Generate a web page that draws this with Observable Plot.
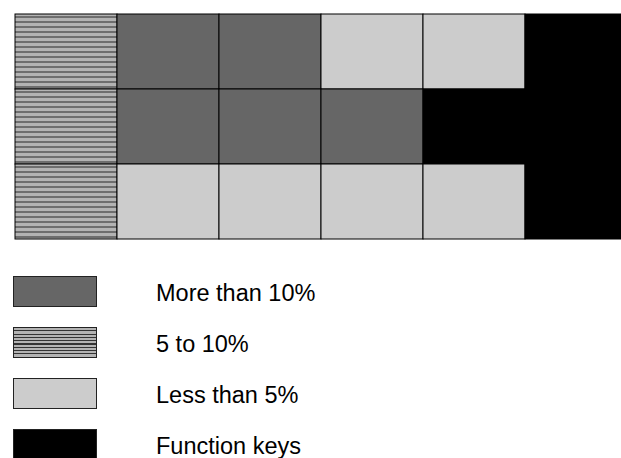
<!DOCTYPE html>
<html>
<head>
<meta charset="utf-8">
<script src="https://cdn.jsdelivr.net/npm/d3@7"></script>
<script src="https://cdn.jsdelivr.net/npm/@observablehq/plot@0.6"></script>
<style>
  html, body { margin: 0; padding: 0; background: #fff; }
  body { width: 621px; height: 458px; overflow: hidden; position: relative; font-family: Arial, "Liberation Sans", sans-serif; }
  #chart svg { display: block; }
  .swatch { position: absolute; left: 13px; width: 82px; height: 29px; border: 1px solid #222; }
  .label { position: absolute; left: 156px; font-size: 23.5px; line-height: 26px; color: #000; white-space: nowrap; }
</style>
</head>
<body>
<div id="chart"></div>
<div id="legend"></div>
<script>
// Data
const columns = ["k1", "k2", "k3", "k4", "k5", "k6"];
const rows = ["row1", "row2", "row3"];
const categories = ["More than 10%", "5 to 10%", "Less than 5%", "Function keys"];
const categoryFills = ["#666666", "url(#stripes)", "#cccccc", "#000000"];
const row1 = ["5 to 10%", "More than 10%", "More than 10%", "Less than 5%", "Less than 5%", "Function keys"];
const row2 = ["5 to 10%", "More than 10%", "More than 10%", "More than 10%", "Function keys", "Function keys"];
const row3 = ["5 to 10%", "Less than 5%", "Less than 5%", "Less than 5%", "Less than 5%", "Function keys"];

const grid = [row1, row2, row3];
const cells = [];
grid.forEach((r, i) => r.forEach((cat, j) => cells.push({row: rows[i], col: columns[j], cat})));

const plot = Plot.plot({
  width: 621,
  height: 245,
  marginTop: 13,
  marginLeft: 14,
  marginRight: -6,
  marginBottom: 6,
  x: {domain: columns, padding: 0, axis: null},
  y: {domain: rows, padding: 0, axis: null},
  color: {type: "ordinal", domain: categories, range: categoryFills},
  marks: [
    Plot.cell(cells, {x: "col", y: "row", fill: "cat", stroke: "#000", strokeWidth: 1})
  ]
});

// stripe pattern definition
const svg = d3.select(plot);
const defs = svg.insert("defs", ":first-child");
const p = defs.append("pattern").attr("id", "stripes").attr("patternUnits", "userSpaceOnUse")
  .attr("width", 10).attr("height", 5);
p.append("rect").attr("width", 10).attr("height", 5).attr("fill", "#b3b3b3");
p.append("rect").attr("x", 0).attr("y", 1.5).attr("width", 10).attr("height", 1).attr("fill", "#2a2a2a");
document.getElementById("chart").appendChild(plot);

// Legend (HTML below the SVG)
const legend = document.getElementById("legend");
const swatchTops = [276, 327, 378, 429];
categories.forEach((cat, i) => {
  const sw = document.createElement("div");
  sw.className = "swatch";
  sw.style.top = swatchTops[i] + "px";
  const f = categoryFills[i];
  if (f.startsWith("url")) {
    sw.style.background = "repeating-linear-gradient(to bottom, #b3b3b3 0px, #b3b3b3 2.2px, #333 2.2px, #333 3.3px)";
  } else {
    sw.style.background = f;
  }
  legend.appendChild(sw);
  const lb = document.createElement("div");
  lb.className = "label";
  lb.textContent = cat;
  lb.style.top = (swatchTops[i] + 4) + "px";
  legend.appendChild(lb);
});
</script>
</body>
</html>
